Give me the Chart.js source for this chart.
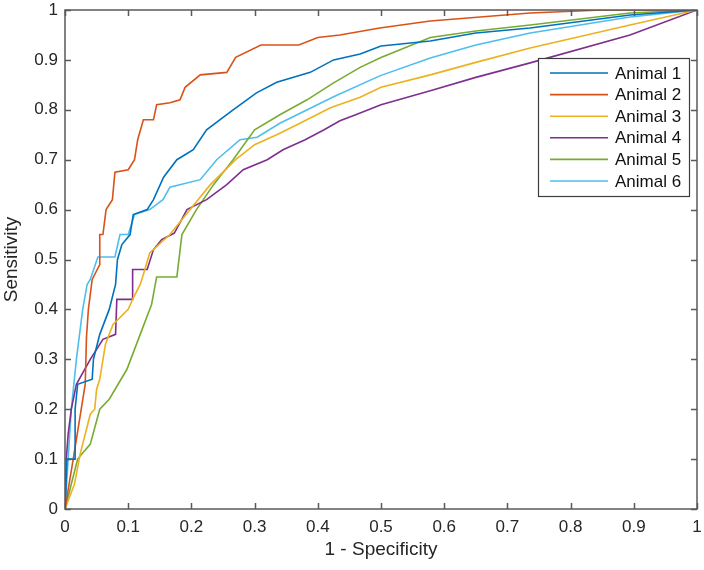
<!DOCTYPE html>
<html>
<head>
<meta charset="utf-8">
<script src="https://cdn.jsdelivr.net/npm/chart.js@4"></script>
<style>
  html, body { margin: 0; padding: 0; background: #fff; }
  #wrap { width: 704px; height: 570px; position: relative; }
</style>
</head>
<body>
<div id="wrap"><canvas id="roc"></canvas></div>
<script>
// ROC curves, one per animal
const seriesNames = ['Animal 1', 'Animal 2', 'Animal 3', 'Animal 4', 'Animal 5', 'Animal 6'];

const animal1X = [0, 0.003, 0.016, 0.016, 0.02, 0.043, 0.045, 0.055, 0.07, 0.08, 0.083, 0.09, 0.103, 0.108, 0.13, 0.14, 0.156, 0.177, 0.203, 0.224, 0.266, 0.303, 0.335, 0.388, 0.425, 0.467, 0.5, 0.578, 0.65, 0.736, 0.894, 1];
const animal1Y = [0, 0.1, 0.1, 0.2, 0.25, 0.26, 0.3, 0.35, 0.4, 0.45, 0.5, 0.53, 0.55, 0.59, 0.6, 0.62, 0.665, 0.7, 0.72, 0.76, 0.8, 0.834, 0.855, 0.875, 0.9, 0.912, 0.928, 0.938, 0.954, 0.964, 0.99, 1];

const animal2X = [0, 0.013, 0.032, 0.034, 0.037, 0.043, 0.055, 0.055, 0.06, 0.065, 0.075, 0.079, 0.1, 0.11, 0.115, 0.124, 0.14, 0.145, 0.166, 0.182, 0.19, 0.214, 0.256, 0.27, 0.31, 0.37, 0.4, 0.435, 0.498, 0.578, 0.736, 0.85, 1];
const animal2Y = [0, 0.1, 0.25, 0.345, 0.4, 0.46, 0.49, 0.55, 0.55, 0.6, 0.62, 0.675, 0.68, 0.7, 0.74, 0.78, 0.78, 0.81, 0.814, 0.82, 0.845, 0.87, 0.875, 0.905, 0.93, 0.93, 0.945, 0.95, 0.964, 0.978, 0.994, 1, 1];

const animal3X = [0, 0.015, 0.024, 0.04, 0.047, 0.05, 0.055, 0.064, 0.076, 0.1, 0.107, 0.119, 0.124, 0.134, 0.166, 0.198, 0.23, 0.27, 0.3, 0.335, 0.367, 0.42, 0.467, 0.5, 0.578, 0.65, 0.736, 0.894, 1];
const animal3Y = [0, 0.05, 0.11, 0.19, 0.2, 0.24, 0.26, 0.33, 0.37, 0.4, 0.42, 0.45, 0.47, 0.513, 0.55, 0.6, 0.65, 0.7, 0.73, 0.75, 0.77, 0.804, 0.825, 0.845, 0.87, 0.895, 0.924, 0.97, 1];

const animal4X = [0, 0.002, 0.005, 0.01, 0.018, 0.04, 0.06, 0.08, 0.082, 0.107, 0.107, 0.13, 0.14, 0.153, 0.173, 0.193, 0.224, 0.256, 0.282, 0.32, 0.345, 0.38, 0.41, 0.435, 0.46, 0.5, 0.578, 0.65, 0.736, 0.894, 1];
const animal4Y = [0, 0.1, 0.15, 0.2, 0.25, 0.3, 0.34, 0.35, 0.42, 0.42, 0.48, 0.48, 0.52, 0.54, 0.553, 0.6, 0.62, 0.65, 0.68, 0.7, 0.72, 0.74, 0.76, 0.778, 0.79, 0.81, 0.838, 0.865, 0.894, 0.95, 1];

const animal5X = [0, 0.01, 0.02, 0.04, 0.055, 0.07, 0.098, 0.119, 0.137, 0.145, 0.177, 0.185, 0.208, 0.235, 0.266, 0.3, 0.34, 0.383, 0.425, 0.467, 0.5, 0.578, 0.65, 0.736, 0.894, 1];
const animal5Y = [0, 0.05, 0.1, 0.13, 0.2, 0.22, 0.28, 0.35, 0.41, 0.465, 0.465, 0.55, 0.6, 0.65, 0.7, 0.76, 0.79, 0.82, 0.854, 0.885, 0.905, 0.945, 0.958, 0.97, 0.994, 1];

const animal6X = [0, 0.005, 0.01, 0.018, 0.028, 0.035, 0.04, 0.052, 0.079, 0.087, 0.1, 0.11, 0.134, 0.155, 0.166, 0.214, 0.24, 0.277, 0.304, 0.34, 0.425, 0.498, 0.578, 0.65, 0.736, 0.894, 1];
const animal6Y = [0, 0.1, 0.2, 0.3, 0.4, 0.45, 0.46, 0.505, 0.505, 0.55, 0.55, 0.59, 0.6, 0.62, 0.645, 0.66, 0.7, 0.74, 0.745, 0.773, 0.826, 0.868, 0.904, 0.93, 0.954, 0.986, 1];

const xTicks = [0, 0.1, 0.2, 0.3, 0.4, 0.5, 0.6, 0.7, 0.8, 0.9, 1];
const yTicks = [0, 0.1, 0.2, 0.3, 0.4, 0.5, 0.6, 0.7, 0.8, 0.9, 1];

const seriesX = [animal1X, animal2X, animal3X, animal4X, animal5X, animal6X];
const seriesY = [animal1Y, animal2Y, animal3Y, animal4Y, animal5Y, animal6Y];

// MATLAB default line colours
const colors = ['#0072BD', '#D95319', '#EDB120', '#7E2F8E', '#77AC30', '#4DBEEE'];

const FONT = "'Liberation Sans', Arial, Helvetica, sans-serif";
const INK = '#262626';
const AXIS = '#5a5a5a';

function fmt(v) {
  return Math.abs(v - Math.round(v)) < 1e-9 ? String(Math.round(v)) : String(+v.toFixed(1));
}

// box around the axes with inward ticks on all four sides
const boxAxes = {
  id: 'boxAxes',
  afterDatasetsDraw(chart) {
    const { ctx, chartArea: a, scales: { x, y } } = chart;
    const len = 6;
    ctx.save();
    ctx.strokeStyle = AXIS;
    ctx.lineWidth = 1.5;
    ctx.beginPath();
    xTicks.forEach((t) => {
      const px = Math.round(x.getPixelForValue(t)) + 0.5;
      ctx.moveTo(px, a.bottom); ctx.lineTo(px, a.bottom - len);
      ctx.moveTo(px, a.top); ctx.lineTo(px, a.top + len);
    });
    yTicks.forEach((t) => {
      const py = Math.round(y.getPixelForValue(t)) + 0.5;
      ctx.moveTo(a.left, py); ctx.lineTo(a.left + len, py);
      ctx.moveTo(a.right, py); ctx.lineTo(a.right - len, py);
    });
    ctx.stroke();
    ctx.strokeRect(a.left, a.top, a.right - a.left, a.bottom - a.top);
    ctx.restore();
  },
};

// MATLAB style legend in the upper right ("northeast") of the axes
const boxLegend = {
  id: 'boxLegend',
  afterDraw(chart) {
    const { ctx, chartArea: a } = chart;
    const sets = chart.data.datasets;
    const w = 151, rowH = 21.6, h = 138;
    const left = a.right - 8 - w;
    const top = a.top + 48;
    ctx.save();
    ctx.fillStyle = '#fff';
    ctx.fillRect(left, top, w, h);
    ctx.strokeStyle = '#3c3c3c';
    ctx.lineWidth = 1.2;
    ctx.strokeRect(left + 0.5, top + 0.5, w, h);
    ctx.font = '17px ' + FONT;
    ctx.textBaseline = 'middle';
    ctx.textAlign = 'left';
    sets.forEach((ds, i) => {
      const cy = top + 15 + i * rowH;
      ctx.strokeStyle = ds.borderColor;
      ctx.lineWidth = 1.6;
      ctx.beginPath();
      ctx.moveTo(left + 12, cy);
      ctx.lineTo(left + 70, cy);
      ctx.stroke();
      ctx.fillStyle = '#111';
      ctx.fillText(ds.label, left + 77, cy + 1);
    });
    ctx.restore();
  },
};

const datasets = seriesNames.map((name, i) => ({
  label: name,
  data: seriesX[i].map((x, k) => ({ x: x, y: seriesY[i][k] })),
  borderColor: colors[i],
  backgroundColor: colors[i],
  borderWidth: 1.6,
  showLine: true,
  pointRadius: 0,
  pointHoverRadius: 0,
  tension: 0,
  fill: false,
}));

new Chart(document.getElementById('roc'), {
  type: 'scatter',
  data: { datasets },
  options: {
    responsive: true,
    maintainAspectRatio: false,
    animation: false,
    events: [],
    layout: { padding: { top: 10, right: 7, left: 0, bottom: 0 } },
    plugins: {
      legend: { display: false },
      tooltip: { enabled: false },
    },
    scales: {
      x: {
        type: 'linear',
        min: 0,
        max: 1,
        afterBuildTicks: (s) => { s.ticks = xTicks.map((v) => ({ value: v })); },
        afterFit: (s) => { s.height = 61; s.paddingLeft = 0; s.paddingRight = 0; },
        grid: { display: false, drawTicks: false },
        border: { display: false },
        ticks: {
          color: INK,
          padding: 8,
          maxRotation: 0,
          autoSkip: false,
          font: { family: FONT, size: 17 },
          callback: (v) => fmt(v),
        },
        title: {
          display: true,
          text: '1 - Specificity',
          color: INK,
          font: { family: FONT, size: 19 },
          padding: { top: 0, bottom: 9 },
        },
      },
      y: {
        type: 'linear',
        min: 0,
        max: 1,
        afterBuildTicks: (s) => { s.ticks = yTicks.map((v) => ({ value: v })); },
        afterFit: (s) => { s.width = 65; s.paddingTop = 0; s.paddingBottom = 0; },
        grid: { display: false, drawTicks: false },
        border: { display: false },
        ticks: {
          color: INK,
          padding: 7,
          autoSkip: false,
          font: { family: FONT, size: 17 },
          callback: (v) => fmt(v),
        },
        title: {
          display: true,
          text: 'Sensitivity',
          color: INK,
          font: { family: FONT, size: 19 },
          padding: { top: 0, bottom: 0 },
        },
      },
    },
  },
  plugins: [boxAxes, boxLegend],
});
</script>
</body>
</html>
